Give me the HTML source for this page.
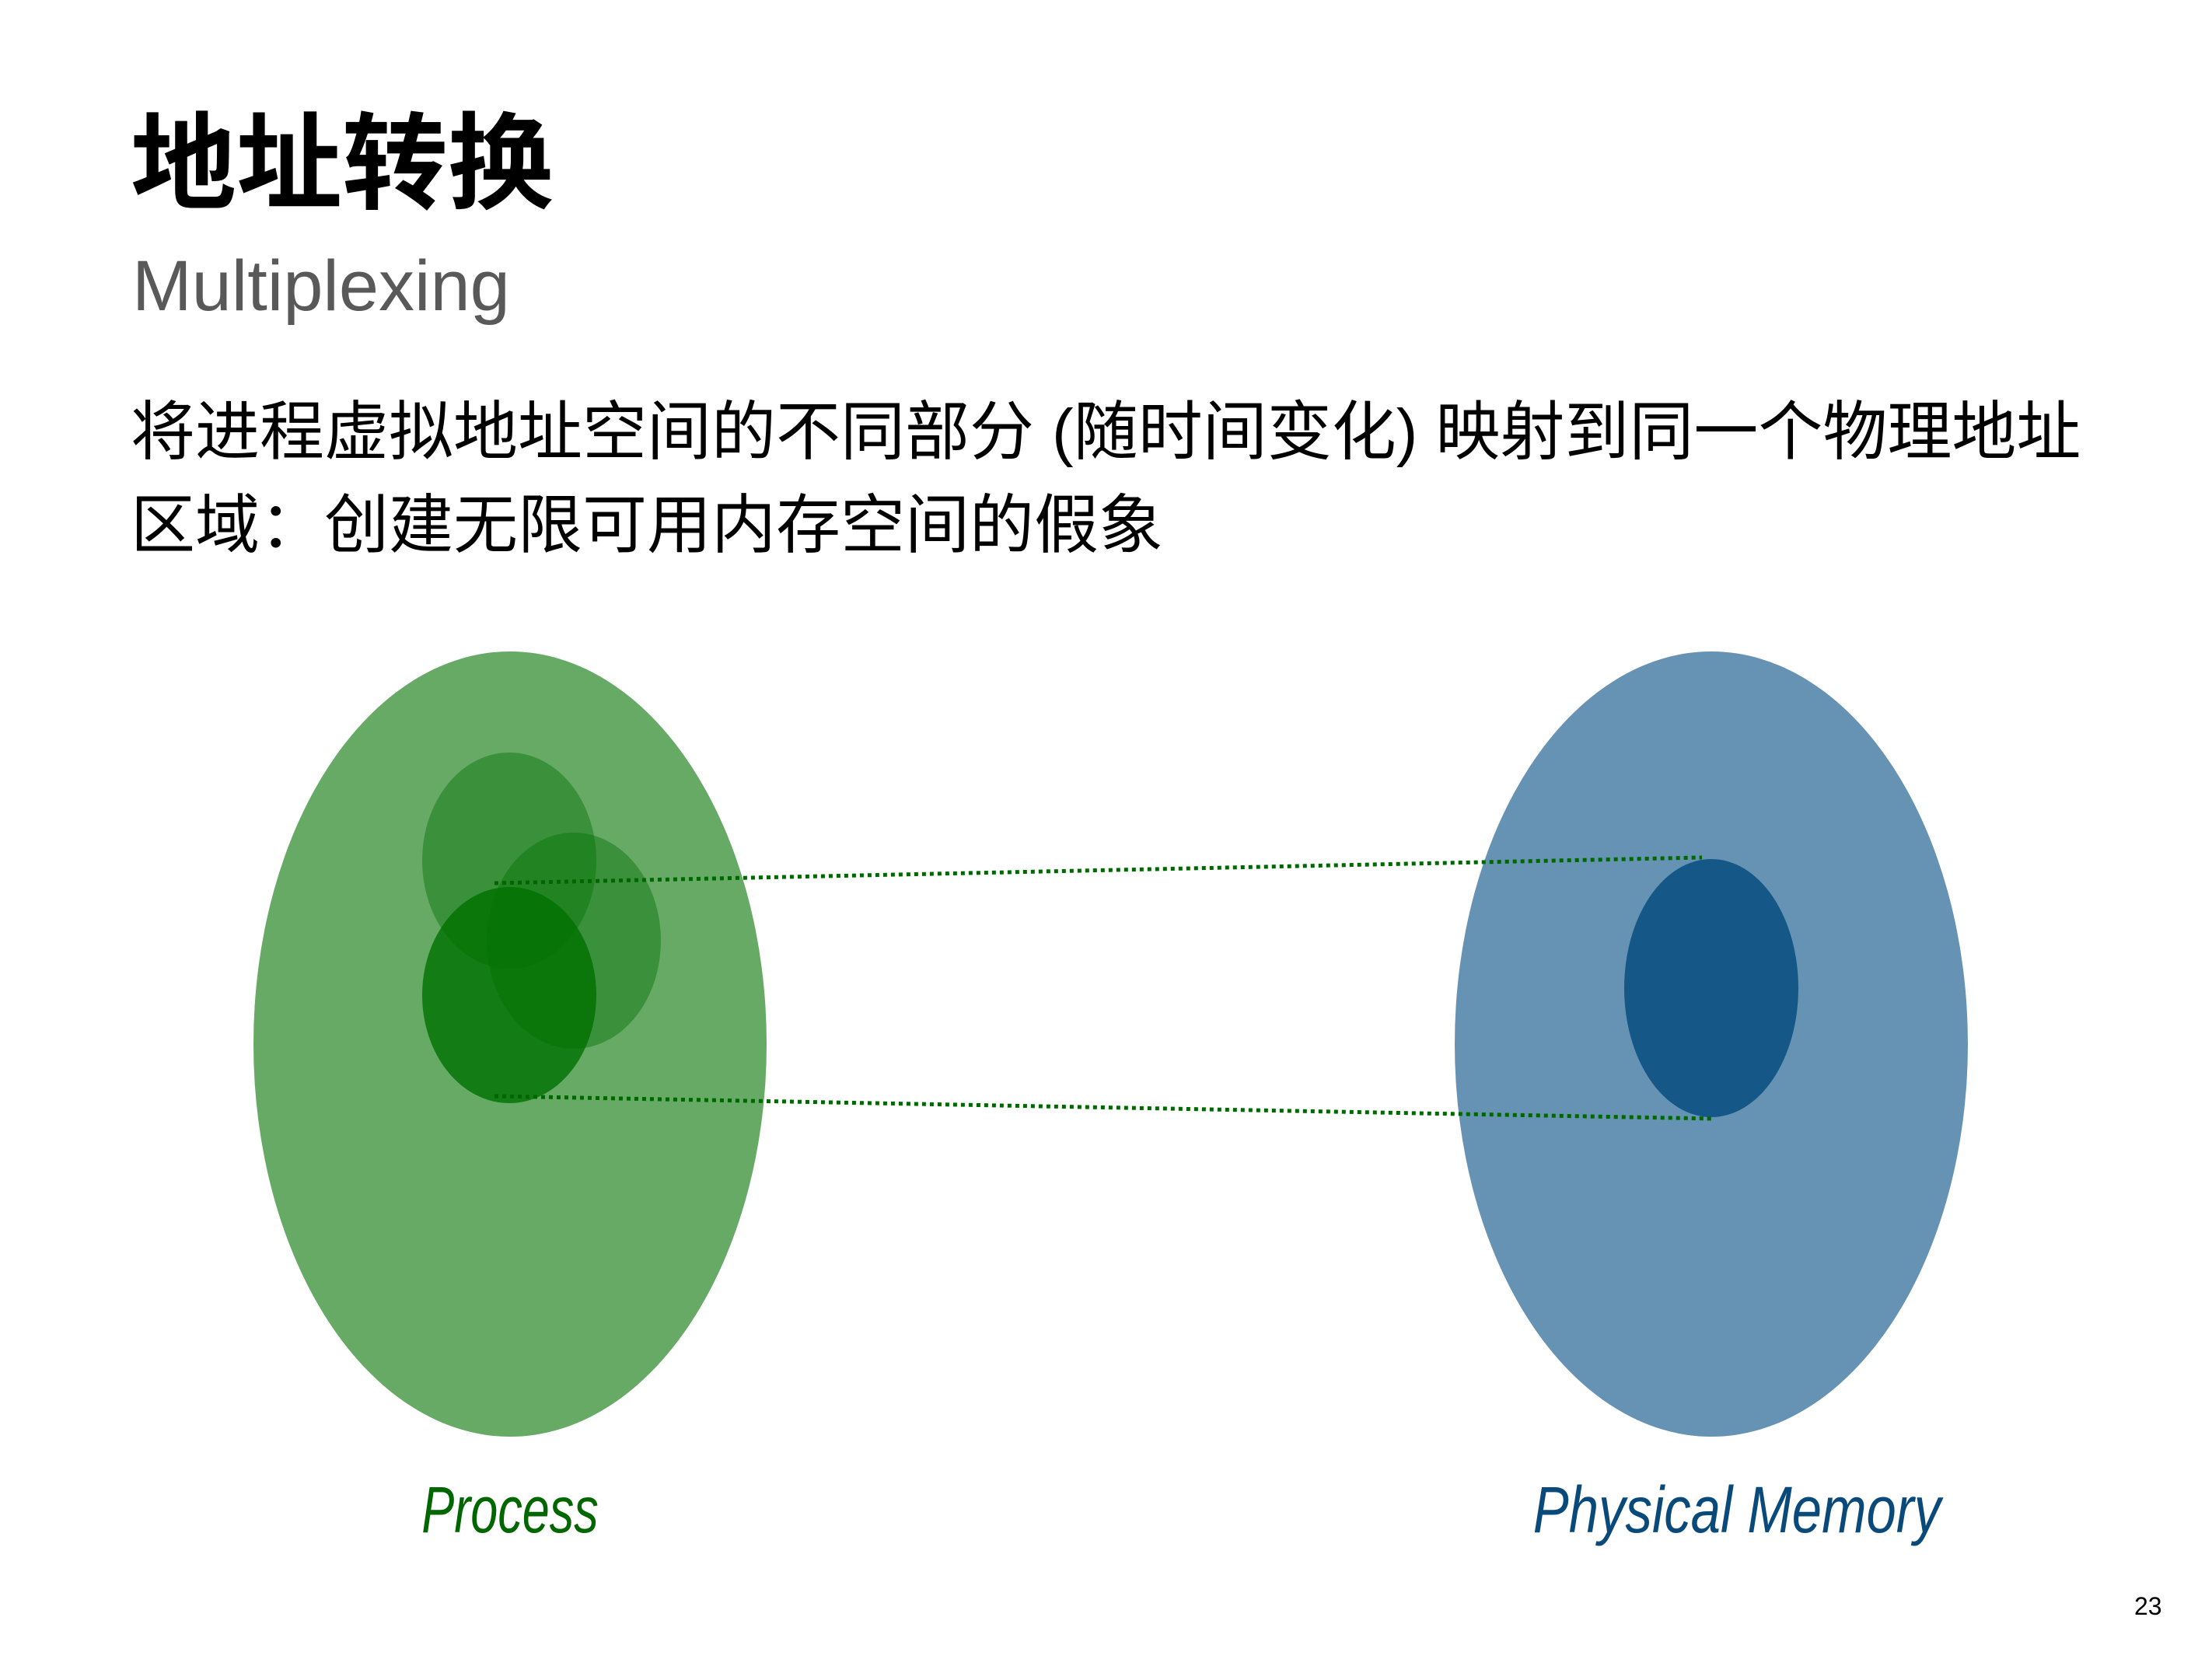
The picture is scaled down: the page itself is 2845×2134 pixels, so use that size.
<!DOCTYPE html>
<html><head><meta charset="utf-8"><style>
html,body{margin:0;padding:0;background:#fff;}
body{width:2845px;height:2134px;position:relative;overflow:hidden;font-family:"Liberation Sans","Noto Sans CJK SC",sans-serif;}
.t{position:absolute;white-space:nowrap;line-height:1;}
</style></head><body>
<div class="t" style="left:168px;top:132px;font-size:136px;font-weight:bold;color:#000;font-family:'Noto Sans CJK SC',sans-serif;">地址转换</div>
<div class="t" style="left:170px;top:322px;font-size:92px;color:#595959;">Multiplexing</div>
<div class="t" style="left:168px;top:514px;font-size:83px;color:#000;font-family:'Liberation Sans','Noto Sans CJK SC',sans-serif;">将进程虚拟地址空间的不同部分 (随时间变化) 映射到同一个物理地址</div>
<div class="t" style="left:168px;top:634px;font-size:83px;color:#000;font-family:'Liberation Sans','Noto Sans CJK SC',sans-serif;">区域：创建无限可用内存空间的假象</div>
<svg width="2845" height="2134" style="position:absolute;left:0;top:0">
<ellipse cx="656" cy="1343" rx="330" ry="505" fill="#66aa66"/>
<ellipse cx="655" cy="1107" rx="112" ry="139" fill="#007000" opacity="0.42"/>
<ellipse cx="738" cy="1210" rx="112" ry="139" fill="#007000" opacity="0.42"/>
<ellipse cx="655" cy="1280" rx="112" ry="139" fill="#007000" opacity="0.8"/>
<ellipse cx="2201" cy="1343" rx="330" ry="505" fill="#6693b3"/>
<ellipse cx="2201" cy="1271" rx="112" ry="166" fill="#155887"/>
<line x1="636" y1="1136" x2="2189" y2="1103" stroke="#006600" stroke-width="5" stroke-dasharray="5 5"/>
<line x1="636" y1="1410" x2="2204" y2="1439" stroke="#006600" stroke-width="5" stroke-dasharray="5 5"/>
</svg>
<div class="t" style="left:656px;top:1900px;font-size:84px;font-style:italic;color:#006600;transform:translateX(-50%) scaleX(0.75);">Process</div>
<div class="t" style="left:2234px;top:1900px;font-size:84px;font-style:italic;color:#0a4a7a;transform:translateX(-50%) scaleX(0.82);">Physical Memory</div>
<div class="t" style="left:2745px;top:2050px;font-size:32px;color:#000;">23</div>
</body></html>
